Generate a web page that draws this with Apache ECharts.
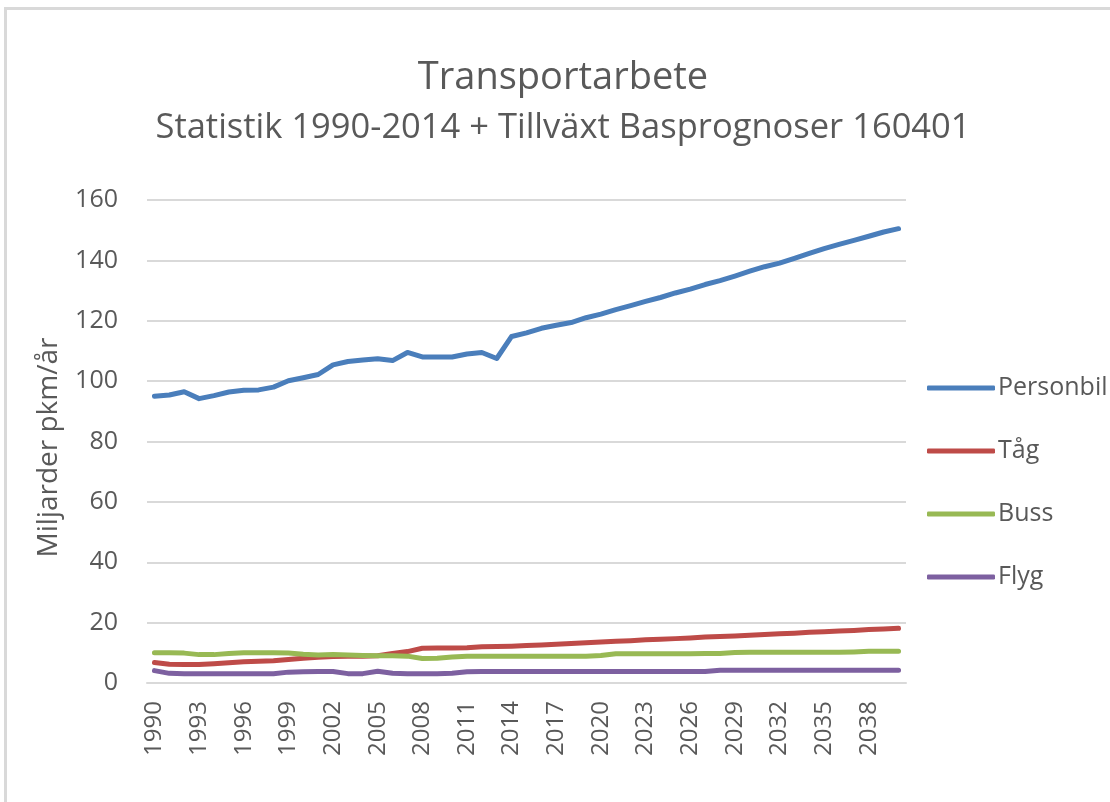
<!DOCTYPE html>
<html>
<head>
<meta charset="utf-8">
<script src="https://cdn.jsdelivr.net/npm/echarts@6/dist/echarts.min.js"></script>
<style>
  html, body { margin: 0; padding: 0; background: #fff; }
  #chart { width: 1110px; height: 802px; }
  #frame {
    position: absolute; left: 4px; top: 7px; right: 0; bottom: 0;
    border-top: 3px solid #d9d9d9; border-left: 3px solid #d9d9d9;
    pointer-events: none;
  }
</style>
</head>
<body>
<div id="chart"></div>
<div id="frame"></div>
<script>
// years on the x axis
const years = [
  "1990","1991","1992","1993","1994","1995","1996","1997","1998","1999",
  "2000","2001","2002","2003","2004","2005","2006","2007","2008","2009",
  "2010","2011","2012","2013","2014","2015","2016","2017","2018","2019",
  "2020","2021","2022","2023","2024","2025","2026","2027","2028","2029",
  "2030","2031","2032","2033","2034","2035","2036","2037","2038","2039",
  "2040"
];

// miljarder pkm/år
const personbil = [
  95.0, 95.4, 96.5, 94.2, 95.2, 96.4, 97.0, 97.1, 98.0, 100.1,
  101.1, 102.2, 105.4, 106.5, 107.0, 107.4, 106.8, 109.5, 108.0, 108.0,
  108.0, 109.0, 109.5, 107.5, 114.8, 116.0, 117.5, 118.5, 119.4, 121.0,
  122.2, 123.7, 125.0, 126.4, 127.7, 129.2, 130.5, 132.0, 133.3, 134.8,
  136.4, 137.9, 139.1, 140.7, 142.3, 143.9, 145.3, 146.6, 148.0, 149.4,
  150.5
];
const tag = [
  6.8, 6.2, 6.1, 6.1, 6.4, 6.7, 7.0, 7.2, 7.4, 7.8,
  8.2, 8.5, 8.8, 8.9, 8.9, 9.0, 9.8, 10.4, 11.5, 11.6,
  11.6, 11.7, 12.0, 12.1, 12.2, 12.4, 12.6, 12.8, 13.1, 13.3,
  13.6, 13.8, 14.0, 14.3, 14.5, 14.7, 14.9, 15.2, 15.4, 15.6,
  15.8, 16.1, 16.3, 16.5, 16.8, 17.0, 17.2, 17.4, 17.7, 17.9,
  18.1
];
const buss = [
  10.0, 10.0, 9.9, 9.4, 9.4, 9.8, 10.0, 10.0, 10.0, 9.9,
  9.5, 9.3, 9.4, 9.3, 9.1, 9.0, 9.0, 8.9, 8.1, 8.2,
  8.6, 8.9, 8.9, 8.9, 8.9, 8.9, 8.9, 8.9, 8.9, 8.9,
  9.1, 9.7, 9.7, 9.7, 9.7, 9.7, 9.7, 9.8, 9.8, 10.1,
  10.2, 10.2, 10.2, 10.2, 10.2, 10.2, 10.2, 10.3, 10.5, 10.5,
  10.5
];
const flyg = [
  4.1, 3.2, 3.1, 3.1, 3.1, 3.1, 3.1, 3.1, 3.1, 3.6,
  3.7, 3.8, 3.8, 3.1, 3.1, 3.9, 3.2, 3.1, 3.1, 3.1,
  3.2, 3.7, 3.8, 3.8, 3.8, 3.8, 3.8, 3.8, 3.8, 3.8,
  3.8, 3.8, 3.8, 3.8, 3.8, 3.8, 3.8, 3.8, 4.2, 4.2,
  4.2, 4.2, 4.2, 4.2, 4.2, 4.2, 4.2, 4.2, 4.2, 4.2,
  4.2
];

const seriesNames = ["Personbil", "Tåg", "Buss", "Flyg"];
const seriesColors = ["#4a7ebb", "#be4b48", "#98b954", "#7d60a0"];
const seriesData = [personbil, tag, buss, flyg];

const FONT = "Open Sans";
const TEXT = "#595959";
const GRID = "#d9d9d9";

const chart = echarts.init(document.getElementById("chart"));

chart.setOption({
  animation: false,
  textStyle: { fontFamily: FONT, color: TEXT },
  title: [
    {
      text: "Transportarbete",
      left: 558, top: 54, textAlign: "center",
      textStyle: { fontFamily: FONT, fontSize: 38, fontWeight: "normal", color: TEXT }
    },
    {
      text: "Statistik 1990-2014 + Tillväxt Basprognoser 160401",
      left: 558, top: 106, textAlign: "center",
      textStyle: { fontFamily: FONT, fontSize: 34.5, fontWeight: "normal", color: TEXT }
    }
  ],
  legend: {
    orient: "vertical",
    left: 922, top: 368,
    itemWidth: 68, itemHeight: 5, itemGap: 33,
    icon: "roundRect",
    data: seriesNames,
    textStyle: { fontFamily: FONT, fontSize: 25, color: TEXT, lineHeight: 30, padding: [0, 0, 0, -2] }
  },
  grid: { left: 147, right: 204, top: 200, bottom: 119, containLabel: false },
  xAxis: {
    type: "category",
    data: years,
    boundaryGap: true,
    axisLine: { lineStyle: { color: GRID, width: 2 } },
    axisTick: { show: false },
    axisLabel: {
      interval: 2, rotate: 90, margin: 18,
      fontFamily: FONT, fontSize: 24, color: TEXT
    }
  },
  yAxis: {
    type: "value",
    min: 0, max: 160, interval: 20,
    name: "Miljarder pkm/år",
    nameLocation: "middle",
    nameGap: 84,
    nameTextStyle: { fontFamily: FONT, fontSize: 28, color: TEXT, padding: [0, 12, 0, 0] },
    axisLine: { show: false },
    axisTick: { show: false },
    axisLabel: { margin: 29, fontFamily: FONT, fontSize: 25, color: TEXT },
    splitLine: { lineStyle: { color: GRID, width: 2 } }
  },
  series: seriesNames.map((name, i) => ({
    name,
    type: "line",
    data: seriesData[i],
    symbol: "none",
    color: seriesColors[i],
    lineStyle: { width: 5, color: seriesColors[i], cap: "round", join: "round" }
  }))
});
</script>
</body>
</html>
